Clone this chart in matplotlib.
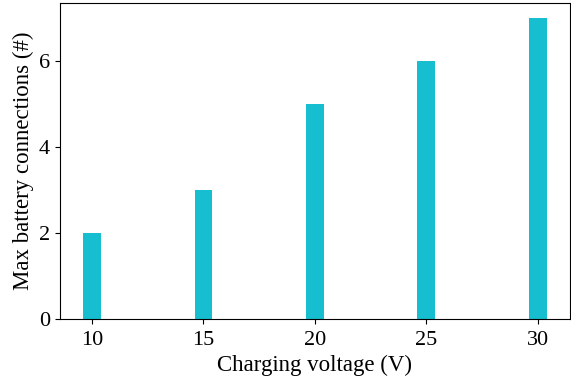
import matplotlib
matplotlib.use("Agg")
import matplotlib.pyplot as plt

voltages = [10, 15, 20, 25, 30]
max_connections = [2, 3, 5, 6, 7]

plt.rcParams["font.family"] = ["Liberation Serif", "DejaVu Serif"]

fig, ax = plt.subplots(figsize=(5.71, 3.81), dpi=100)
ax.bar(voltages, max_connections, width=0.8, color="#17becf")
ax.set_xticks(voltages)
ax.set_xlabel("Charging voltage (V)", fontsize=16.5, labelpad=4)
ax.set_ylabel("Max battery connections (#)", fontsize=16.5, labelpad=4)
ax.tick_params(labelsize=16)
ax.tick_params(axis="x", pad=5)
fig.subplots_adjust(left=0.105, right=0.998, top=0.992, bottom=0.163)
fig.savefig("out.png", dpi=100)
